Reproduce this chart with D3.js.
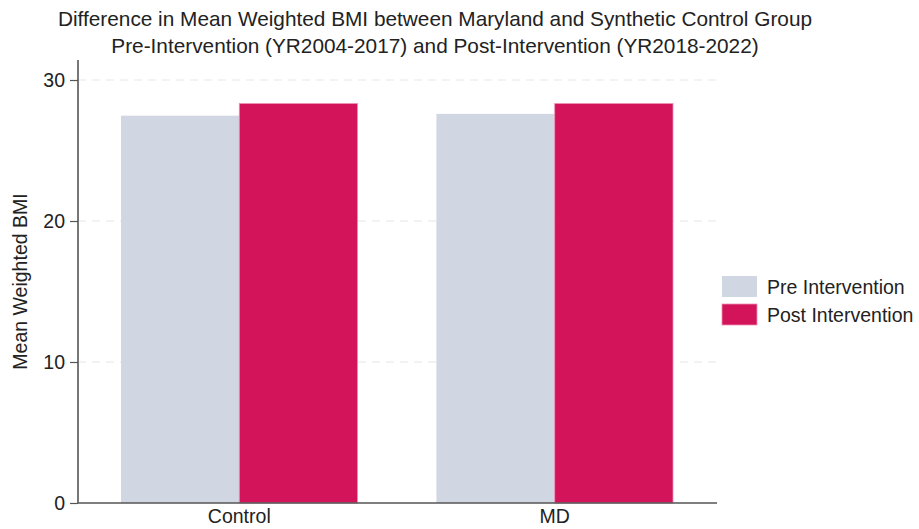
<!DOCTYPE html>
<html>
<head>
<meta charset="utf-8">
<script src="https://cdn.jsdelivr.net/npm/d3@7"></script>
<style>
  html, body { margin: 0; padding: 0; background: #fff; }
  svg { display: block; font-family: "Liberation Sans", Arial, sans-serif; }
</style>
</head>
<body>
<svg id="chart" width="919" height="529"></svg>
<script>
const categories = ["Control", "MD"];
const seriesNames = ["Pre Intervention", "Post Intervention"];
const preValues = [27.47, 27.6];
const postValues = [28.33, 28.33];
const yTicks = [0, 10, 20, 30];
const titleLines = [
  "Difference in Mean Weighted BMI between Maryland and Synthetic Control Group",
  "Pre-Intervention (YR2004-2017) and Post-Intervention (YR2018-2022)"
];
const colors = ["#d0d6e2", "#d4145a"];

const svg = d3.select("#chart");
const axisLeft = 78, axisRight = 717, yZero = 503, yTop30 = 80;
const FS = 19.5;

const y = d3.scaleLinear().domain([0, 30]).range([yZero, yTop30]);
const x0 = d3.scaleBand().domain(categories).range([121, 673]).paddingInner(0.25).paddingOuter(0);
const x1 = d3.scaleBand().domain(seriesNames).range([0, x0.bandwidth()]).padding(0);

// gridlines
svg.append("g").selectAll("line").data(yTicks.filter(d => d > 0)).join("line")
  .attr("x1", axisLeft).attr("x2", axisRight)
  .attr("y1", d => y(d)).attr("y2", d => y(d))
  .attr("stroke", "#e6e6e6").attr("stroke-width", 1).attr("stroke-dasharray", "8,6");

// bars
const rows = categories.map((c, i) => ({ cat: c, vals: [preValues[i], postValues[i]] }));
const g = svg.append("g");
rows.forEach(r => {
  g.selectAll(null).data(r.vals.map((v, j) => ({ s: seriesNames[j], v, j }))).join("rect")
    .attr("x", d => x0(r.cat) + x1(d.s))
    .attr("y", d => y(d.v))
    .attr("width", x1.bandwidth())
    .attr("height", d => yZero - y(d.v))
    .attr("fill", d => colors[d.j])
    .attr("stroke", d => d.j === 1 ? "#ee8fb4" : "none")
    .attr("stroke-width", 0.8);
});

// y axis
const yAxis = d3.axisLeft(y).tickValues(yTicks).tickSize(8).tickPadding(5).tickFormat(d3.format("d"));
const ya = svg.append("g").attr("transform", `translate(${axisLeft},0)`).call(yAxis);
ya.select(".domain").attr("stroke", "#555").attr("stroke-width", 1.6).attr("d", `M0,${yTop30 - 20}V${yZero}`);
ya.selectAll(".tick line").attr("stroke", "#555").attr("stroke-width", 1.2);
ya.selectAll(".tick text").attr("font-size", FS).attr("fill", "#222").attr("font-family", "Liberation Sans, Arial, sans-serif");

// x axis
const xAxis = d3.axisBottom(x0).tickSize(0).tickPadding(6);
const xa = svg.append("g").attr("transform", `translate(0,${yZero})`).call(xAxis);
xa.select(".domain").attr("d", `M${axisLeft},0H${axisRight}`).attr("stroke", "#555").attr("stroke-width", 1.6);
xa.selectAll(".tick text").attr("font-size", FS).attr("fill", "#222").attr("font-family", "Liberation Sans, Arial, sans-serif");

// y label
svg.append("text")
  .attr("transform", `translate(27,${(yZero + yTop30) / 2 - 10}) rotate(-90)`)
  .attr("text-anchor", "middle")
  .attr("font-size", FS).attr("fill", "#222")
  .text("Mean Weighted BMI");

// title
svg.append("g").selectAll("text").data(titleLines).join("text")
  .attr("x", 435).attr("y", (d, i) => 26 + i * 27)
  .attr("text-anchor", "middle")
  .attr("font-size", 20.8).attr("fill", "#222")
  .text(d => d);

// legend
const lg = svg.append("g").attr("transform", "translate(722,276)");
seriesNames.forEach((s, i) => {
  lg.append("rect").attr("x", 0).attr("y", i * 28).attr("width", 35).attr("height", 21)
    .attr("fill", colors[i]).attr("stroke", i === 1 ? "#ee8fb4" : "none").attr("stroke-width", 0.8);
  lg.append("text").attr("x", 45).attr("y", i * 28 + 11).attr("dy", "0.35em")
    .attr("font-size", FS).attr("fill", "#222").text(s);
});
</script>
</body>
</html>
